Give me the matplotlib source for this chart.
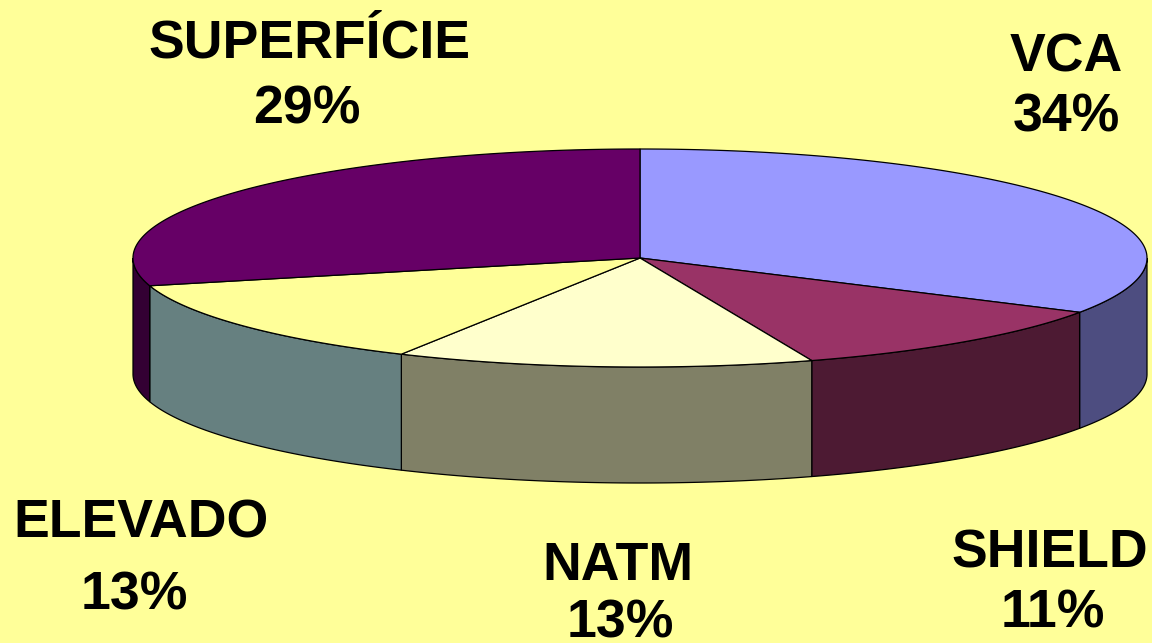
import numpy as np
import matplotlib
matplotlib.use("Agg")
import matplotlib.pyplot as plt

labels = ["VCA", "SHIELD", "NATM", "ELEVADO", "SUPERFÍCIE"]
percent_labels = ["34%", "11%", "13%", "13%", "29%"]
slice_shares = [33.3, 11.2, 13.3, 13.1, 29.1]
top_colors = ["#9999FF", "#993366", "#FFFFCC", "#FFFF99", "#660066"]
wall_colors = ["#4D4D80", "#4D1A33", "#808066", "#668080", "#330033"]
name_xy = [(1066, 58), (1050, 553), (618, 566), (141, 523), (309, 44)]
pct_xy = [(1066, 118), (1053, 614), (620, 623), (134, 596), (307, 110)]

CX, CY, RX, RY, DEPTH = 640, 258, 507, 109, 116
BG = "#FFFF99"

plt.rcParams["font.family"] = ["Liberation Sans", "DejaVu Sans"]
fig = plt.figure(figsize=(11.52, 6.43), dpi=100, facecolor=BG)
ax = fig.add_axes([0, 0, 1, 1])
ax.set_xlim(0, 1152)
ax.set_ylim(643, 0)
ax.axis("off")


def rim(t):
    return CX + RX * np.sin(t), CY - RY * np.cos(t)


fractions = np.array(slice_shares) / sum(slice_shares)
edges = np.concatenate([[0], np.cumsum(fractions)]) * 2 * np.pi

# side walls: the visible part is where the rim faces front (pi/2..3pi/2)
for i in range(len(slice_shares)):
    a = max(edges[i], np.pi / 2)
    b = min(edges[i + 1], 3 * np.pi / 2)
    if b > a:
        t = np.linspace(a, b, 120)
        x, y = rim(t)
        ax.fill(np.r_[x, x[::-1]], np.r_[y, y[::-1] + DEPTH],
                facecolor=wall_colors[i], edgecolor="black", lw=0.9, zorder=2)

# top faces
for i in range(len(slice_shares)):
    t = np.linspace(edges[i], edges[i + 1], 240)
    x, y = rim(t)
    ax.fill(np.r_[CX, x], np.r_[CY, y], facecolor=top_colors[i],
            edgecolor="black", lw=0.9, zorder=3)

for i, (name, pct) in enumerate(zip(labels, percent_labels)):
    ax.text(*name_xy[i], name, ha="center", va="center",
            fontsize=38.6, fontweight="bold", color="black")
    ax.text(*pct_xy[i], pct, ha="center", va="center",
            fontsize=38.6, fontweight="bold", color="black")

fig.savefig("out.png", dpi=100, facecolor=BG)
